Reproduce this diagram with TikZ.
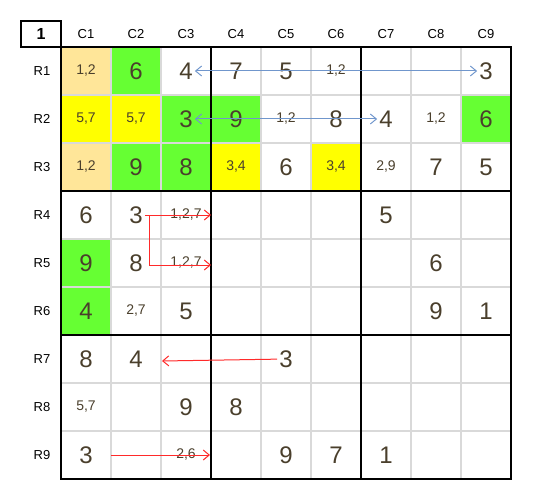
\documentclass[tikz,border=0pt]{standalone}
\usepackage{fontspec}
\setmainfont{Liberation Sans}
\usetikzlibrary{arrows.meta}
\definecolor{cand-orange}{HTML}{FFE699}
\definecolor{cand-green}{HTML}{66FF33}
\definecolor{cand-yellow}{HTML}{FFFF00}
\definecolor{grid-grey}{HTML}{D9D9D9}
\definecolor{digit-brown}{HTML}{4A3F2C}
\definecolor{link-blue}{HTML}{7096CC}
\definecolor{link-red}{HTML}{FF2A2A}
\tikzset{
    big-digit/.style = {text=digit-brown, font=\fontsize{24}{24}\selectfont, inner sep=2pt},
    small-digit/.style = {text=digit-brown, font=\fontsize{14}{14}\selectfont, inner sep=2pt},
    head-label/.style = {font=\fontsize{13}{13}\selectfont},
    corner-label/.style = {font=\fontsize{16}{16}\selectfont\bfseries},
    thin-line/.style = {draw=grid-grey, line width=2pt},
    box-line/.style = {draw=black, line width=2.5pt, line cap=rect},
    blue-arrow/.style = {draw=link-blue, line width=1pt, >={Straight Barb[length=6pt,width=10pt]}},
    red-arrow/.style = {draw=link-red, line width=1pt, >={Straight Barb[length=6pt,width=10pt]}},
}

\begin{document}
\begin{tikzpicture}[x=1pt, y=-1pt]
\useasboundingbox (0,0) rectangle (533,500);
% coloured cells
\foreach \r/\c/\col in {1/1/cand-orange, 1/2/cand-green, 2/1/cand-yellow, 2/2/cand-yellow, 2/3/cand-green, 2/4/cand-green, 2/9/cand-green, 3/1/cand-orange, 3/2/cand-green, 3/3/cand-green, 3/4/cand-yellow, 3/6/cand-yellow, 5/1/cand-green, 6/1/cand-green}
    \fill[\col] ({11+50*\c},{-1+48*\r}) rectangle ({61+50*\c},{47+48*\r});
% grid
\foreach \k in {1,2,4,5,7,8} {
    \draw[thin-line] ({61+50*\k},47) -- ({61+50*\k},479);
    \draw[thin-line] (61,{47+48*\k}) -- (511,{47+48*\k});
}
\foreach \k in {3,6} {
    \draw[box-line] ({61+50*\k},47) -- ({61+50*\k},479);
    \draw[box-line] (61,{47+48*\k}) -- (511,{47+48*\k});
}
\draw[box-line] (61,47) rectangle (511,479);
\draw[box-line] (21,21) rectangle (61,47);
% headers
\node[corner-label] (corner) at (41,34) {1};
\foreach \c in {1,...,9}
    \node[head-label] (col\c) at ({36+50*\c},34) {C\c};
\foreach \r in {1,...,9}
    \node[head-label] (row\r) at (42,{23+48*\r}) {R\r};
% given and solved digits
\foreach \r/\c/\v in {1/2/6, 1/3/4, 1/4/7, 1/5/5, 1/9/3, 2/3/3, 2/4/9, 2/6/8, 2/7/4, 2/9/6, 3/2/9, 3/3/8, 3/5/6, 3/8/7, 3/9/5, 4/1/6, 4/2/3, 4/7/5, 5/1/9, 5/2/8, 5/8/6, 6/1/4, 6/3/5, 6/8/9, 6/9/1, 7/1/8, 7/2/4, 7/5/3, 8/3/9, 8/4/8, 9/1/3, 9/5/9, 9/6/7, 9/7/1}
    \node[big-digit] (d\r\c) at ({36+50*\c},{23+48*\r}) {\v};
% candidates
\foreach \r/\c/\v in {1/1/{1,2}, 1/6/{1,2}, 2/1/{5,7}, 2/2/{5,7}, 2/5/{1,2}, 2/8/{1,2}, 3/1/{1,2}, 3/4/{3,4}, 3/6/{3,4}, 3/7/{2,9}, 4/3/{1,2,7}, 5/3/{1,2,7}, 6/2/{2,7}, 8/1/{5,7}, 9/3/{2,6}}
    \node[small-digit] (d\r\c) at ({36+50*\c},{23+48*\r}) {\v};
% links
\draw[blue-arrow, <->] (d13) -- (d19);
\draw[blue-arrow, <->] (d23) -- (d27);
\coordinate (r4-end) at (211,215);
\coordinate (r5-end) at (211,265);
\coordinate (r7-end) at (162,361);
\coordinate (r9-start) at (111,455);
\coordinate (r9-end) at (210,455);
\draw[red-arrow, ->] (d42) -- (r4-end);
\draw[red-arrow, ->] ([xshift=5pt]d42.east) |- (r5-end);
\draw[red-arrow, ->] (d75) -- (r7-end);
\draw[red-arrow, ->] (r9-start) -- (r9-end);
\end{tikzpicture}
\end{document}
